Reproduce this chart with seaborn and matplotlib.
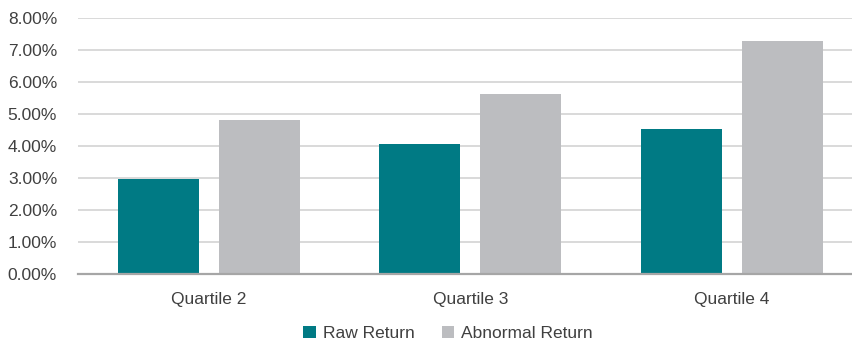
import matplotlib
matplotlib.use("Agg")
import matplotlib.pyplot as plt
import matplotlib.ticker as mticker
from matplotlib.patches import Patch
import seaborn as sns
import pandas as pd

categories = ["Quartile 2", "Quartile 3", "Quartile 4"]
series_names = ["Raw Return", "Abnormal Return"]
raw_return = [0.0297, 0.0406, 0.0453]
abnormal_return = [0.0481, 0.0562, 0.0728]
y_ticks = [0.0, 0.01, 0.02, 0.03, 0.04, 0.05, 0.06, 0.07, 0.08]

colors = {"Raw Return": "#007A84", "Abnormal Return": "#BCBDC0"}

df = pd.DataFrame({
    "Quartile": categories * 2,
    "Series": [series_names[0]] * len(categories) + [series_names[1]] * len(categories),
    "Return": raw_return + abnormal_return,
})

sns.set_theme(style="white")
plt.rcParams["font.family"] = ["Liberation Sans", "DejaVu Sans"]

fig = plt.figure(figsize=(8.52, 3.41), dpi=100)
ax = fig.add_axes([0.0915, 0.1965, 0.9085, 0.7507])

sns.barplot(data=df, x="Quartile", y="Return", hue="Series", order=categories,
            hue_order=series_names, palette=colors, width=0.772, gap=0.2,
            saturation=1, linewidth=0, legend=False, ax=ax, zorder=3)

ax.set_ylim(0, 0.08)
ax.set_xlim(-0.5, 2.46)
ax.set_yticks(y_ticks)
ax.yaxis.set_major_formatter(mticker.FuncFormatter(lambda v, _: f"{v * 100:.2f}%"))
ax.grid(axis="y", color="#D3D3D3", linewidth=1.2, zorder=0)
ax.set_axisbelow(True)

for side in ["top", "right", "left"]:
    ax.spines[side].set_visible(False)
ax.spines["bottom"].set_color("#A6A6A6")
ax.spines["bottom"].set_linewidth(1.6)
ax.spines["bottom"].set_zorder(4)

ax.tick_params(axis="y", length=0, pad=15, labelsize=12.5, labelcolor="#404040")
ax.tick_params(axis="x", length=0, pad=13, labelsize=12.5, labelcolor="#404040")
ax.set_xlabel("")
ax.set_ylabel("")

handles = [Patch(facecolor=colors[s], edgecolor="none") for s in series_names]
fig.legend(handles, series_names, loc="center", bbox_to_anchor=(0.526, 0.021),
           ncol=2, frameon=False, fontsize=12.5, handlelength=0.7, handleheight=0.7,
           handletextpad=0.4, columnspacing=1.6, labelcolor="#404040")

fig.savefig("out.png", dpi=100)
